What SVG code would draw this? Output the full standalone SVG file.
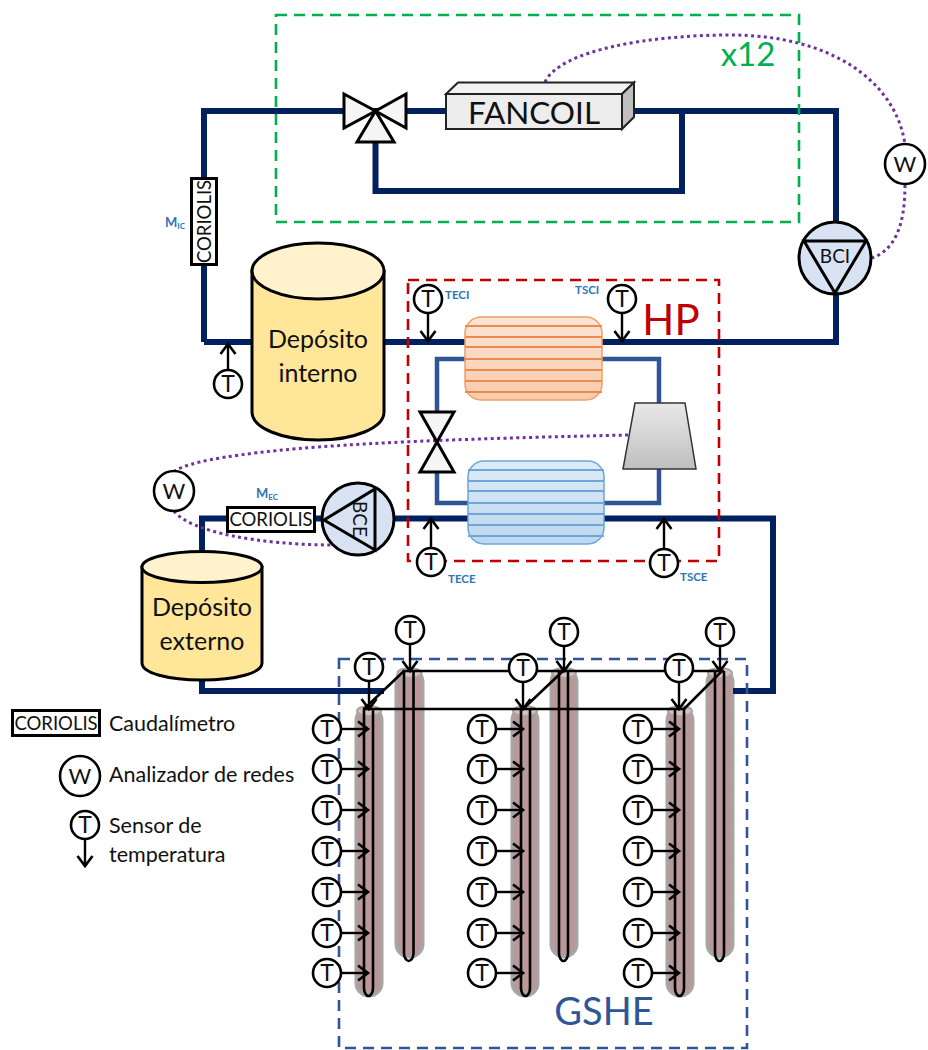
<svg xmlns="http://www.w3.org/2000/svg" width="928" height="1050" viewBox="0 0 928 1050">
<style>
text{font-family:"Lato","Carlito","Open Sans",sans-serif;fill:#111;text-anchor:middle}
.pipe{fill:none;stroke:#002060;stroke-width:6}
.ref{fill:none;stroke:#2F5597;stroke-width:4.5}
.dot{fill:none;stroke:#7030A0;stroke-width:3;stroke-dasharray:3 3.4}
.dash{fill:none;stroke-width:2.6;stroke-dasharray:11 7}
.c{fill:#fff;stroke:#000;stroke-width:2.6}
.s{fill:none;stroke:#000;stroke-width:2.4}
.u{fill:none;stroke:#000;stroke-width:2.6}
.k{fill:#F5F5F5;stroke:#000;stroke-width:3;stroke-linejoin:miter}
.hole{fill:#B89898;stroke:#A6A6A6;stroke-width:3}
.cap{fill:#D9BFBF;stroke:#A6A6A6;stroke-width:2}
.t{font-size:23px}
.w{font-size:22px}
.lab{font-size:11.5px;font-weight:700;fill:#2E75B6;text-anchor:start}
.sub{font-size:8px;font-weight:700}
.cor{fill:#fff;stroke:#000;stroke-width:3}
.cort{font-size:18.5px}
.tank{fill:#FFE699;stroke:#000;stroke-width:3}
.top{fill:#FFF2CC;stroke:#000;stroke-width:3}
.big{font-size:25px}
.leg{font-size:21.5px;text-anchor:start}
.ch1{stroke:#ED8B4E;stroke-width:2}
.ch2{stroke:#6FA5D8;stroke-width:2}
</style>
<defs>
<marker id="a" markerUnits="userSpaceOnUse" markerWidth="24" markerHeight="24" refX="12" refY="12" orient="auto" viewBox="0 0 24 24"><path d="M2 4.5L12 12L2 19.5" fill="none" stroke="#000" stroke-width="2.6"/></marker>
<linearGradient id="org" x1="0" y1="0" x2="0" y2="1"><stop offset="0" stop-color="#FBE5D6"/><stop offset="1" stop-color="#F8CBAD"/></linearGradient>
<linearGradient id="blu" x1="0" y1="0" x2="0" y2="1"><stop offset="0" stop-color="#DEEBF7"/><stop offset="1" stop-color="#BDD7EE"/></linearGradient>
<linearGradient id="gry" x1="0" y1="0" x2="0" y2="1"><stop offset="0" stop-color="#E8E8E8"/><stop offset="1" stop-color="#BFBFBF"/></linearGradient>
</defs>

<g id="gshe-boreholes">
<rect class="hole" x="396" y="669" width="27" height="288" rx="13"/><ellipse class="cap" cx="409.500" cy="673" rx="12" ry="5"/>
<rect class="hole" x="551" y="669" width="26" height="288" rx="13"/><ellipse class="cap" cx="564" cy="673" rx="12" ry="5"/>
<rect class="hole" x="707" y="669" width="26" height="288" rx="13"/><ellipse class="cap" cx="720" cy="673" rx="12" ry="5"/>
<rect class="hole" x="356" y="707" width="26" height="289" rx="13"/><ellipse class="cap" cx="369" cy="711" rx="12" ry="5"/>
<rect class="hole" x="512" y="707" width="26" height="289" rx="13"/><ellipse class="cap" cx="525" cy="711" rx="12" ry="5"/>
<rect class="hole" x="667" y="707" width="26" height="289" rx="13"/><ellipse class="cap" cx="680" cy="711" rx="12" ry="5"/>
</g>

<g id="connectors">
<path class="pipe" d="M204 342V111H836V342H204"/>
<path class="pipe" d="M375.500 140V191H682V111"/>
<path class="pipe" d="M202 552V518.500H773V691H733"/>
<path class="pipe" d="M202 680V691H384"/>
<path class="ref" d="M465 359H437V412M437 472V503H468"/>
<path class="ref" d="M602 359H659V403M659 469V503H604"/>
<path class="u" d="M404 953V671H724M413.500 671V953M404 953a4.750 8 0 0 0 9.500 0"/>
<path class="u" d="M559 953V671M568 671V953M559 953a4.500 8 0 0 0 9 0"/>
<path class="u" d="M715 953V671M724 671V953M715 953a4.500 8 0 0 0 9 0"/>
<path class="u" d="M364 988V709H684M373 709V988M364 988a4.500 8 0 0 0 9 0"/>
<path class="u" d="M521 988V709M530 709V988M521 988a4.500 8 0 0 0 9 0"/>
<path class="u" d="M675 988V709M684 709V988M675 988a4.500 8 0 0 0 9 0"/>
<path class="u" d="M364 709L404 671M523 709L563 671M684 709L722 671"/>
<path class="dot" d="M545 82C560 50 650 35 730 35C830 35 895 80 905 144"/>
<path class="dot" d="M905 185C905 225 895 250 872 258"/>
<path class="dot" d="M628 435C500 438 330 442 240 455C195 461 175 468 172 474"/>
<path class="dot" d="M174 511C190 532 260 545 335 545"/>
</g>

<g id="zone-fancoil"><rect class="dash" x="276" y="15" width="523" height="207" stroke="#00B050"/><text x="748" y="66" style="font-size:33px;fill:#00B050">x12</text></g>
<g id="zone-hp"><rect class="dash" x="408" y="280" width="311" height="281" stroke="#C00000"/><text x="671" y="335" style="font-size:42px;fill:#C00000">HP</text></g>
<g id="zone-gshe"><rect class="dash" x="339" y="659" width="408" height="389" stroke="#2F5597"/><text x="604" y="1025" style="font-size:38px;fill:#2F5597">GSHE</text></g>

<g id="valve-3way">
<path class="k" d="M344 94L375.500 111L344 128Z"/><path class="k" d="M406 94L375.500 111L406 128Z"/><path class="k" d="M375.500 111L357 142H394Z"/>
</g>
<g id="fancoil">
<path d="M446 94L458 82.500H634L622 94Z" fill="#F2F2F2" stroke="#222" stroke-width="2"/>
<path d="M622 94L634 82.500V117L622 129Z" fill="#BFBFBF" stroke="#222" stroke-width="2"/>
<rect x="446" y="94" width="176" height="35" fill="#EDEDED" stroke="#222" stroke-width="2"/>
<text x="534" y="124" style="font-size:31.500px">FANCOIL</text>
</g>
<g id="w-top"><circle class="c" cx="905" cy="164" r="20"/><text class="w" x="905" y="172">W</text></g>
<g id="pump-bci">
<circle cx="835" cy="258" r="36" fill="#D9E2F3" stroke="#000" stroke-width="3"/>
<path d="M804 241H866L835 293Z" fill="none" stroke="#000" stroke-width="3"/>
<text x="835" y="263" style="font-size:19px">BCI</text>
</g>
<g id="coriolis-ic"><rect class="cor" x="191.500" y="178.500" width="25" height="86"/><text class="cort" transform="translate(210.500 221.500) rotate(-90)">CORIOLIS</text></g>
<g id="label-mic"><text class="lab" x="165" y="227" style="font-size:13px">M<tspan class="sub" dy="2">IC</tspan></text></g>
<g id="tank-int">
<path class="tank" d="M252 271V412C252 428 282 440 318 440C354 440 384 428 384 412V271Z"/>
<ellipse class="top" cx="318" cy="271" rx="66" ry="28"/>
<text class="big" x="318" y="348">Depósito</text><text class="big" x="318" y="382">interno</text>
</g>
<g id="tank-ext">
<path class="tank" d="M142 567V663C142 673 168 680 202 680C236 680 262 673 262 663V567Z"/>
<ellipse class="top" cx="202" cy="567" rx="60" ry="15.500"/>
<text class="big" x="202" y="616">Depósito</text><text class="big" x="202" y="650">externo</text>
</g>
<g id="condenser">
<rect x="465" y="317" width="137" height="83" rx="16" fill="url(#org)" stroke="#F4A060" stroke-width="1.500"/>
<path class="ch1" d="M465 326H602M465 337H602M465 347H602M465 359H602M465 370H602M465 381H602M465 392H602"/>
</g>
<g id="evaporator">
<rect x="468" y="461" width="136" height="83" rx="16" fill="url(#blu)" stroke="#6FA5D8" stroke-width="1.500"/>
<path class="ch2" d="M468 470H604M468 481H604M468 491H604M468 503H604M468 514H604M468 525H604M468 536H604"/>
</g>
<g id="compressor"><path d="M635 403H685L696 469H623Z" fill="url(#gry)" stroke="#333" stroke-width="1.500"/></g>
<g id="valve-hp"><path class="k" d="M420 412H454L437 442Z"/><path class="k" d="M420 472H454L437 442Z"/></g>
<g id="w-left"><circle class="c" cx="174" cy="491" r="20"/><text class="w" x="174" y="499">W</text></g>
<g id="coriolis-ec"><rect class="cor" x="227.500" y="507.500" width="87" height="24"/><text class="cort" x="271" y="526">CORIOLIS</text></g>
<g id="label-mec"><text class="lab" x="256" y="498" style="font-size:13px">M<tspan class="sub" dy="2">EC</tspan></text></g>
<g id="pump-bce">
<circle cx="358" cy="519" r="36" fill="#D9E2F3" stroke="#000" stroke-width="3"/>
<path d="M324 520L375 489V550Z" fill="none" stroke="#000" stroke-width="3"/>
<text transform="translate(353 519) rotate(90)" style="font-size:19px">BCE</text>
</g>

<g id="labels-hp">
<text class="lab" x="445" y="299">TECI</text><text class="lab" x="575" y="294">TSCI</text>
<text class="lab" x="448" y="583">TECE</text><text class="lab" x="680" y="581">TSCE</text>
</g>

<g id="t-tint"><line class="s" x1="228" y1="370" x2="228" y2="344" marker-end="url(#a)"/><circle class="c" cx="228" cy="384" r="14"/><text class="t" x="228" y="392">T</text></g>
<g id="t-teci"><line class="s" x1="428" y1="313" x2="428" y2="341" marker-end="url(#a)"/><circle class="c" cx="428" cy="299" r="14"/><text class="t" x="428" y="307">T</text></g>
<g id="t-tsci"><line class="s" x1="622" y1="313" x2="622" y2="341" marker-end="url(#a)"/><circle class="c" cx="622" cy="299" r="14"/><text class="t" x="622" y="307">T</text></g>
<g id="t-tece"><line class="s" x1="431" y1="548" x2="431" y2="519" marker-end="url(#a)"/><circle class="c" cx="431" cy="562" r="14"/><text class="t" x="431" y="570">T</text></g>
<g id="t-tsce"><line class="s" x1="664" y1="549" x2="664" y2="519" marker-end="url(#a)"/><circle class="c" cx="664" cy="563" r="14"/><text class="t" x="664" y="571">T</text></g>

<g id="t-b1"><line class="s" x1="410" y1="644" x2="410" y2="671" marker-end="url(#a)"/><circle class="c" cx="410" cy="630" r="14"/><text class="t" x="410" y="638">T</text></g>
<g id="t-b2"><line class="s" x1="564" y1="646" x2="564" y2="671" marker-end="url(#a)"/><circle class="c" cx="564" cy="632" r="14"/><text class="t" x="564" y="640">T</text></g>
<g id="t-b3"><line class="s" x1="720" y1="646" x2="720" y2="671" marker-end="url(#a)"/><circle class="c" cx="720" cy="632" r="14"/><text class="t" x="720" y="640">T</text></g>
<g id="t-f1"><line class="s" x1="369" y1="681" x2="369" y2="709" marker-end="url(#a)"/><circle class="c" cx="369" cy="667" r="14"/><text class="t" x="369" y="675">T</text></g>
<g id="t-f2"><line class="s" x1="523" y1="682" x2="523" y2="709" marker-end="url(#a)"/><circle class="c" cx="523" cy="668" r="14"/><text class="t" x="523" y="676">T</text></g>
<g id="t-f3"><line class="s" x1="679" y1="682" x2="679" y2="709" marker-end="url(#a)"/><circle class="c" cx="679" cy="668" r="14"/><text class="t" x="679" y="676">T</text></g>

<g id="t-a1"><line class="s" x1="341" y1="729" x2="368" y2="729" marker-end="url(#a)"/><circle class="c" cx="327" cy="729" r="14"/><text class="t" x="327" y="737">T</text></g>
<g id="t-a2"><line class="s" x1="341" y1="769" x2="368" y2="769" marker-end="url(#a)"/><circle class="c" cx="327" cy="769" r="14"/><text class="t" x="327" y="777">T</text></g>
<g id="t-a3"><line class="s" x1="341" y1="810" x2="368" y2="810" marker-end="url(#a)"/><circle class="c" cx="327" cy="810" r="14"/><text class="t" x="327" y="818">T</text></g>
<g id="t-a4"><line class="s" x1="341" y1="851" x2="368" y2="851" marker-end="url(#a)"/><circle class="c" cx="327" cy="851" r="14"/><text class="t" x="327" y="859">T</text></g>
<g id="t-a5"><line class="s" x1="341" y1="892" x2="368" y2="892" marker-end="url(#a)"/><circle class="c" cx="327" cy="892" r="14"/><text class="t" x="327" y="900">T</text></g>
<g id="t-a6"><line class="s" x1="341" y1="933" x2="368" y2="933" marker-end="url(#a)"/><circle class="c" cx="327" cy="933" r="14"/><text class="t" x="327" y="941">T</text></g>
<g id="t-a7"><line class="s" x1="341" y1="973" x2="368" y2="973" marker-end="url(#a)"/><circle class="c" cx="327" cy="973" r="14"/><text class="t" x="327" y="981">T</text></g>

<g id="t-c1"><line class="s" x1="496" y1="729" x2="523" y2="729" marker-end="url(#a)"/><circle class="c" cx="482" cy="729" r="14"/><text class="t" x="482" y="737">T</text></g>
<g id="t-c2"><line class="s" x1="496" y1="769" x2="523" y2="769" marker-end="url(#a)"/><circle class="c" cx="482" cy="769" r="14"/><text class="t" x="482" y="777">T</text></g>
<g id="t-c3"><line class="s" x1="496" y1="810" x2="523" y2="810" marker-end="url(#a)"/><circle class="c" cx="482" cy="810" r="14"/><text class="t" x="482" y="818">T</text></g>
<g id="t-c4"><line class="s" x1="496" y1="851" x2="523" y2="851" marker-end="url(#a)"/><circle class="c" cx="482" cy="851" r="14"/><text class="t" x="482" y="859">T</text></g>
<g id="t-c5"><line class="s" x1="496" y1="892" x2="523" y2="892" marker-end="url(#a)"/><circle class="c" cx="482" cy="892" r="14"/><text class="t" x="482" y="900">T</text></g>
<g id="t-c6"><line class="s" x1="496" y1="933" x2="523" y2="933" marker-end="url(#a)"/><circle class="c" cx="482" cy="933" r="14"/><text class="t" x="482" y="941">T</text></g>
<g id="t-c7"><line class="s" x1="496" y1="973" x2="523" y2="973" marker-end="url(#a)"/><circle class="c" cx="482" cy="973" r="14"/><text class="t" x="482" y="981">T</text></g>

<g id="t-d1"><line class="s" x1="652" y1="729" x2="679" y2="729" marker-end="url(#a)"/><circle class="c" cx="638" cy="729" r="14"/><text class="t" x="638" y="737">T</text></g>
<g id="t-d2"><line class="s" x1="652" y1="769" x2="679" y2="769" marker-end="url(#a)"/><circle class="c" cx="638" cy="769" r="14"/><text class="t" x="638" y="777">T</text></g>
<g id="t-d3"><line class="s" x1="652" y1="810" x2="679" y2="810" marker-end="url(#a)"/><circle class="c" cx="638" cy="810" r="14"/><text class="t" x="638" y="818">T</text></g>
<g id="t-d4"><line class="s" x1="652" y1="851" x2="679" y2="851" marker-end="url(#a)"/><circle class="c" cx="638" cy="851" r="14"/><text class="t" x="638" y="859">T</text></g>
<g id="t-d5"><line class="s" x1="652" y1="892" x2="679" y2="892" marker-end="url(#a)"/><circle class="c" cx="638" cy="892" r="14"/><text class="t" x="638" y="900">T</text></g>
<g id="t-d6"><line class="s" x1="652" y1="933" x2="679" y2="933" marker-end="url(#a)"/><circle class="c" cx="638" cy="933" r="14"/><text class="t" x="638" y="941">T</text></g>
<g id="t-d7"><line class="s" x1="652" y1="973" x2="679" y2="973" marker-end="url(#a)"/><circle class="c" cx="638" cy="973" r="14"/><text class="t" x="638" y="981">T</text></g>

<g id="legend">
<rect class="cor" x="12.500" y="710.500" width="87" height="25"/><text class="cort" x="56" y="730">CORIOLIS</text>
<text class="leg" x="109" y="731">Caudalímetro</text>
<circle class="c" cx="80" cy="776" r="20"/><text class="w" x="80" y="784">W</text>
<text class="leg" x="109" y="782">Analizador de redes</text>
<line class="s" x1="85" y1="839" x2="85" y2="866" marker-end="url(#a)"/>
<circle class="c" cx="85" cy="825" r="14"/><text class="t" x="85" y="833">T</text>
<text class="leg" x="109" y="833">Sensor de</text>
<text class="leg" x="109" y="862">temperatura</text>
</g>
</svg>
